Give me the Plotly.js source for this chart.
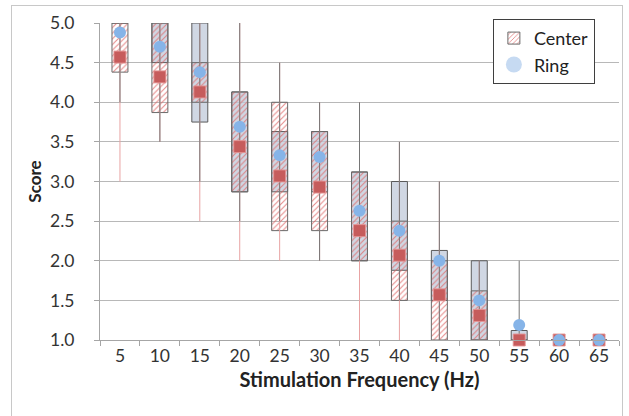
<!DOCTYPE html>
<html>
<head>
<meta charset="utf-8">
<script src="https://cdn.plot.ly/plotly-3.0.1.min.js"></script>
<style>
  html, body { margin: 0; padding: 0; background: #fff; }
  #wrap { position: relative; width: 629px; height: 416px; overflow: hidden; }
  #chart { position: absolute; left: 0; top: 0; width: 629px; height: 416px; }
  #frame { position: absolute; left: 11px; top: 5px; width: 610px; height: 420px; border: 1px solid #c8c8c8; pointer-events: none; }
</style>
</head>
<body>
<div id="wrap">
  <div id="chart"></div>
  <div id="frame"></div>
</div>
<script>
// Stimulation frequency categories (Hz)
const categories = ['5','10','15','20','25','30','35','40','45','50','55','60','65'];

// Center condition
const centerQ1   = [4.38, 3.87, 4.00, 2.87, 2.38, 2.38, 2.00, 1.50, 1.00, 1.00, 1.00, 1.00, 1.00];
const centerQ3   = [5.00, 5.00, 4.50, 4.13, 4.00, 3.63, 3.12, 2.50, 2.00, 1.62, 1.00, 1.00, 1.00];
const centerMin  = [3.00, 3.50, 2.50, 2.00, 2.00, 2.00, 1.00, 1.00, 1.00, 1.00, 1.00, 1.00, 1.00];
const centerMax  = [5.00, 5.00, 5.00, 5.00, 4.50, 4.00, 4.00, 3.50, 3.00, 2.00, 1.00, 1.00, 1.00];
const centerMean = [4.57, 4.32, 4.13, 3.44, 3.07, 2.93, 2.38, 2.07, 1.57, 1.31, 1.00, 1.00, 1.00];

// Ring condition
const ringQ1   = [5.00, 4.50, 3.75, 2.87, 2.87, 2.87, 2.00, 1.88, 1.50, 1.00, 1.00, 1.00, 1.00];
const ringQ3   = [5.00, 5.00, 5.00, 4.13, 3.63, 3.63, 3.12, 3.00, 2.13, 2.00, 1.12, 1.00, 1.00];
const ringMin  = [4.00, 3.50, 3.00, 2.50, 2.50, 2.00, 2.00, 1.50, 1.00, 1.00, 1.00, 1.00, 1.00];
const ringMax  = [5.00, 5.00, 5.00, 5.00, 4.50, 4.00, 4.00, 3.50, 3.00, 2.00, 2.00, 1.00, 1.00];
const ringMean = [4.88, 4.70, 4.38, 3.69, 3.33, 3.31, 2.63, 2.38, 2.00, 1.50, 1.19, 1.00, 1.00];

const yTickVals = [1.0, 1.5, 2.0, 2.5, 3.0, 3.5, 4.0, 4.5, 5.0];

function span(lo, hi) { return hi.map((h, i) => h - lo[i]); }
function whiskers(mins, maxs) {
  const x = [], y = [];
  categories.forEach((c, i) => { x.push(c, c, null); y.push(mins[i], maxs[i], null); });
  return {x, y};
}

const FONT = 'Lato, "Open Sans", sans-serif';
const wC = whiskers(centerMin, centerMax);
const wR = whiskers(ringMin, ringMax);

const traces = [
  { type: 'bar', x: categories, base: ringQ1, y: span(ringQ1, ringQ3), width: 0.4,
    marker: { color: 'rgba(192,202,218,0.75)', line: { color: '#5a5a5a', width: 1 } },
    showlegend: false, hoverinfo: 'skip' },
  { type: 'bar', name: 'Center', legendgroup: 'c', x: categories, base: centerQ1, y: span(centerQ1, centerQ3), width: 0.4,
    marker: { color: 'rgba(0,0,0,0)', line: { color: '#6a6a6a', width: 1 },
              pattern: { shape: '/', fgcolor: 'rgba(222,100,100,0.75)', bgcolor: 'rgba(0,0,0,0)', size: 4, solidity: 0.28 } },
    showlegend: true, hoverinfo: 'skip' },
  { type: 'scatter', mode: 'lines', x: wC.x, y: wC.y, line: { color: '#e8a3a3', width: 1 },
    showlegend: false, cliponaxis: false, hoverinfo: 'skip' },
  { type: 'scatter', mode: 'lines', x: wR.x, y: wR.y, line: { color: '#767676', width: 1 },
    showlegend: false, cliponaxis: false, hoverinfo: 'skip' },
  { type: 'scatter', mode: 'markers', x: categories, y: centerMean,
    marker: { symbol: 'square', size: 12, color: 'rgb(198,92,92)', line: { color: 'rgba(230,150,150,0.9)', width: 1 } },
    showlegend: false, cliponaxis: false },
  { type: 'scatter', mode: 'markers', x: categories, y: ringMean,
    marker: { symbol: 'circle', size: 12, color: '#86b4e8' },
    showlegend: false, cliponaxis: false },
  { type: 'scatter', mode: 'markers', name: 'Ring', legendgroup: 'r', x: [null], y: [null],
    marker: { symbol: 'circle', size: 18, color: '#c6daf2' }, showlegend: true }
];

const layout = {
  width: 629, height: 416,
  margin: { l: 100, r: 10, t: 23, b: 76 },
  paper_bgcolor: 'rgba(0,0,0,0)', plot_bgcolor: '#fff',
  barmode: 'overlay',
  font: { family: FONT, size: 15, color: '#333' },
  showlegend: true,
  legend: { x: 0.757, y: 1.013, xanchor: 'left', yanchor: 'top', bgcolor: '#fff',
            bordercolor: '#3f3f3f', borderwidth: 1, font: { family: FONT, size: 18, color: '#222' },
            tracegroupgap: 9, traceorder: 'normal' },
  xaxis: {
    type: 'category', categoryorder: 'array', categoryarray: categories,
    range: [-0.5, 12.5],
    tickson: 'boundaries', ticks: 'outside', ticklen: 5, tickcolor: '#a6a6a6',
    showline: true, linecolor: '#a6a6a6', linewidth: 1, showgrid: false, zeroline: false,
    tickfont: { family: FONT, size: 17.5, color: '#333' },
    title: { text: 'Stimulation Frequency (Hz)', font: { family: FONT, size: 20, color: '#222', weight: 'bold' }, standoff: 7 }
  },
  yaxis: {
    range: [1, 5], tickvals: yTickVals, tickformat: '.1f',
    ticks: 'outside', ticklen: 5, tickcolor: '#a6a6a6', ticklabelstandoff: 16,
    showline: true, linecolor: '#a6a6a6', linewidth: 1,
    showgrid: true, gridcolor: '#b8b8b8', gridwidth: 1, zeroline: false,
    tickfont: { family: FONT, size: 17.5, color: '#333' },
    title: { text: 'Score', font: { family: FONT, size: 17, color: '#222', weight: 'bold' }, standoff: 4 }
  }
};

Plotly.newPlot('chart', traces, layout, { staticPlot: true, displayModeBar: false });
</script>
</body>
</html>
